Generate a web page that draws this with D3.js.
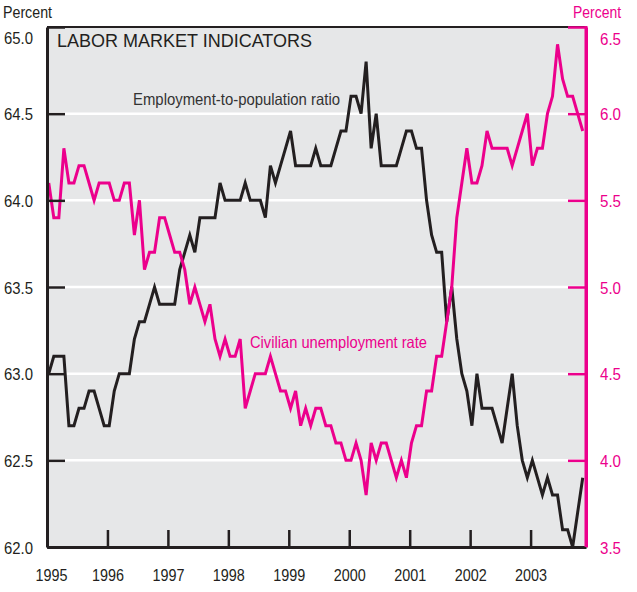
<!DOCTYPE html>
<html>
<head>
<meta charset="utf-8">
<script src="https://cdn.jsdelivr.net/npm/d3@7"></script>
<style>
body { margin: 0; background: #fff; }
text { font-family: "Liberation Sans", Arial, sans-serif; }
</style>
</head>
<body>
<div id="chart"></div>
<script>
let w = 637;
let h = 592;
let plotLeft = 47, plotRight = 586, plotTop = 27, plotBottom = 547;

let pink = "#ec008c";
let ink = "#231f20";

// monthly values, Jan 1995 - Nov 2003
let yearLabels = ["1995", "1996", "1997", "1998", "1999", "2000", "2001", "2002", "2003"];

let empRatio = [
    63.0, 63.1, 63.1, 63.1, 62.7, 62.7, 62.8, 62.8, 62.9, 62.9, 62.8, 62.7,
    62.7, 62.9, 63.0, 63.0, 63.0, 63.2, 63.3, 63.3, 63.4, 63.5, 63.4, 63.4,
    63.4, 63.4, 63.6, 63.7, 63.8, 63.7, 63.9, 63.9, 63.9, 63.9, 64.1, 64.0,
    64.0, 64.0, 64.0, 64.1, 64.0, 64.0, 64.0, 63.9, 64.2, 64.1, 64.2, 64.3,
    64.4, 64.2, 64.2, 64.2, 64.2, 64.3, 64.2, 64.2, 64.2, 64.3, 64.4, 64.4,
    64.6, 64.6, 64.5, 64.8, 64.3, 64.5, 64.2, 64.2, 64.2, 64.2, 64.3, 64.4,
    64.4, 64.3, 64.3, 64.0, 63.8, 63.7, 63.7, 63.3, 63.5, 63.2, 63.0, 62.9,
    62.7, 63.0, 62.8, 62.8, 62.8, 62.7, 62.6, 62.8, 63.0, 62.7, 62.5, 62.4,
    62.5, 62.4, 62.3, 62.4, 62.3, 62.3, 62.1, 62.1, 62.0, 62.2, 62.4
];

let unempRate = [
    5.6, 5.4, 5.4, 5.8, 5.6, 5.6, 5.7, 5.7, 5.6, 5.5, 5.6, 5.6,
    5.6, 5.5, 5.5, 5.6, 5.6, 5.3, 5.5, 5.1, 5.2, 5.2, 5.4, 5.4,
    5.3, 5.2, 5.2, 5.1, 4.9, 5.0, 4.9, 4.8, 4.9, 4.7, 4.6, 4.7,
    4.6, 4.6, 4.7, 4.3, 4.4, 4.5, 4.5, 4.5, 4.6, 4.5, 4.4, 4.4,
    4.3, 4.4, 4.2, 4.3, 4.2, 4.3, 4.3, 4.2, 4.2, 4.1, 4.1, 4.0,
    4.0, 4.1, 4.0, 3.8, 4.1, 4.0, 4.1, 4.1, 4.0, 3.9, 4.0, 3.9,
    4.1, 4.2, 4.2, 4.4, 4.4, 4.6, 4.6, 4.8, 5.0, 5.4, 5.6, 5.8,
    5.6, 5.6, 5.7, 5.9, 5.8, 5.8, 5.8, 5.8, 5.7, 5.8, 5.9, 6.0,
    5.7, 5.8, 5.8, 6.0, 6.1, 6.4, 6.2, 6.1, 6.1, 6.0, 5.9
];

let leftTicks = [62.0, 62.5, 63.0, 63.5, 64.0, 64.5, 65.0];
let rightTicks = [3.5, 4.0, 4.5, 5.0, 5.5, 6.0, 6.5];

let viz = d3.select("#chart")
    .append("svg")
    .attr("width", w)
    .attr("height", h)

let xScale = d3.scaleLinear().domain([0, 107]).range([plotLeft, plotRight]);
let yLeft = d3.scaleLinear().domain([62, 65]).range([plotBottom, plotTop]);
let yRight = d3.scaleLinear().domain([3.5, 6.5]).range([plotBottom, plotTop]);

// the reference uses a condensed face, so squeeze text to its measured width
function squeeze(sel, width) {
    sel.attr("textLength", width).attr("lengthAdjust", "spacingAndGlyphs");
}

// plot background
viz.append("rect")
    .attr("x", plotLeft)
    .attr("y", plotTop)
    .attr("width", plotRight - plotLeft)
    .attr("height", plotBottom - plotTop)
    .attr("fill", "#e6e7e8")

// white grid lines
viz.selectAll(".grid")
    .data(leftTicks.slice(1, -1))
    .enter()
    .append("line")
    .attr("class", "grid")
    .attr("x1", plotLeft)
    .attr("x2", plotRight)
    .attr("y1", d => yLeft(d))
    .attr("y2", d => yLeft(d))
    .attr("stroke", "#fff")
    .attr("stroke-width", 2.5)

// points sit a little into each month
let empLine = d3.line()
    .x((d, i) => xScale(i + 0.35))
    .y(d => yLeft(d))

let unempLine = d3.line()
    .x((d, i) => xScale(i + 0.35))
    .y(d => yRight(d))

viz.append("path")
    .attr("d", empLine(empRatio))
    .attr("fill", "none")
    .attr("stroke", ink)
    .attr("stroke-width", 3)

viz.append("path")
    .attr("d", unempLine(unempRate))
    .attr("fill", "none")
    .attr("stroke", pink)
    .attr("stroke-width", 3)

// top frame
viz.append("line")
    .attr("x1", plotLeft)
    .attr("x2", plotRight)
    .attr("y1", plotTop)
    .attr("y2", plotTop)
    .attr("stroke", ink)
    .attr("stroke-width", 2)

// left axis
let yAxisLeft = d3.axisLeft(yLeft)
    .tickValues(leftTicks)
    .tickSize(-18)
    .tickSizeOuter(0)
    .tickPadding(14)
    .tickFormat(d3.format(".1f"));

let leftGroup = viz.append("g")
    .attr("transform", "translate(" + plotLeft + ",0)")
    .call(yAxisLeft);
leftGroup.attr("font-family", null);
leftGroup.select(".domain").attr("stroke", ink).attr("stroke-width", 3);
leftGroup.selectAll(".tick line").attr("stroke", ink).attr("stroke-width", 2.5);
leftGroup.selectAll(".tick text")
    .attr("fill", ink)
    .attr("font-size", "17px")
    .attr("dy", d => d == 65 ? "0.98em" : "0.36em")
    .call(squeeze, 29);

// right axis
let yAxisRight = d3.axisRight(yRight)
    .tickValues(rightTicks)
    .tickSize(-18)
    .tickSizeOuter(0)
    .tickPadding(14)
    .tickFormat(d3.format(".1f"));

let rightGroup = viz.append("g")
    .attr("transform", "translate(" + plotRight + ",0)")
    .call(yAxisRight);
rightGroup.attr("font-family", null);
rightGroup.select(".domain").attr("stroke", pink).attr("stroke-width", 3);
rightGroup.selectAll(".tick line").attr("stroke", pink).attr("stroke-width", 2.5);
rightGroup.selectAll(".tick text")
    .attr("fill", pink)
    .attr("font-size", "17px")
    .attr("dy", d => d == 6.5 ? "1.05em" : "0.36em")
    .call(squeeze, 21);

// bottom axis, one tick per January
let xAxis = d3.axisBottom(xScale)
    .tickValues(yearLabels.map((d, i) => i * 12))
    .tickSize(-17)
    .tickSizeOuter(0)
    .tickPadding(22)
    .tickFormat((d, i) => yearLabels[i]);

let xGroup = viz.append("g")
    .attr("transform", "translate(0," + plotBottom + ")")
    .call(xAxis);
xGroup.attr("font-family", null);
xGroup.select(".domain").attr("stroke", ink).attr("stroke-width", 3);
xGroup.selectAll(".tick line").attr("stroke", ink).attr("stroke-width", 2.5);
xGroup.selectAll(".tick text")
    .attr("fill", ink)
    .attr("font-size", "17px")
    .attr("dx", (d, i) => i == 0 ? 4 : 0)
    .call(squeeze, 32);

// pink axis over the frame corner
viz.append("line")
    .attr("x1", plotRight)
    .attr("x2", plotRight)
    .attr("y1", plotTop - 1)
    .attr("y2", plotBottom)
    .attr("stroke", pink)
    .attr("stroke-width", 3)

// labels
viz.append("text")
    .attr("x", 3)
    .attr("y", 18)
    .attr("font-size", "17px")
    .attr("fill", ink)
    .text("Percent")
    .call(squeeze, 49)

viz.append("text")
    .attr("x", 573)
    .attr("y", 18)
    .attr("font-size", "17px")
    .attr("fill", pink)
    .text("Percent")
    .call(squeeze, 48)

viz.append("text")
    .attr("x", 57)
    .attr("y", 47)
    .attr("font-size", "18px")
    .attr("fill", ink)
    .text("LABOR MARKET INDICATORS")

viz.append("text")
    .attr("x", 133)
    .attr("y", 105)
    .attr("font-size", "16.5px")
    .attr("fill", "#333")
    .text("Employment-to-population ratio")
    .call(squeeze, 207)

viz.append("text")
    .attr("x", 250)
    .attr("y", 348)
    .attr("font-size", "16.5px")
    .attr("fill", pink)
    .text("Civilian unemployment rate")
    .call(squeeze, 177)
</script>
</body>
</html>
